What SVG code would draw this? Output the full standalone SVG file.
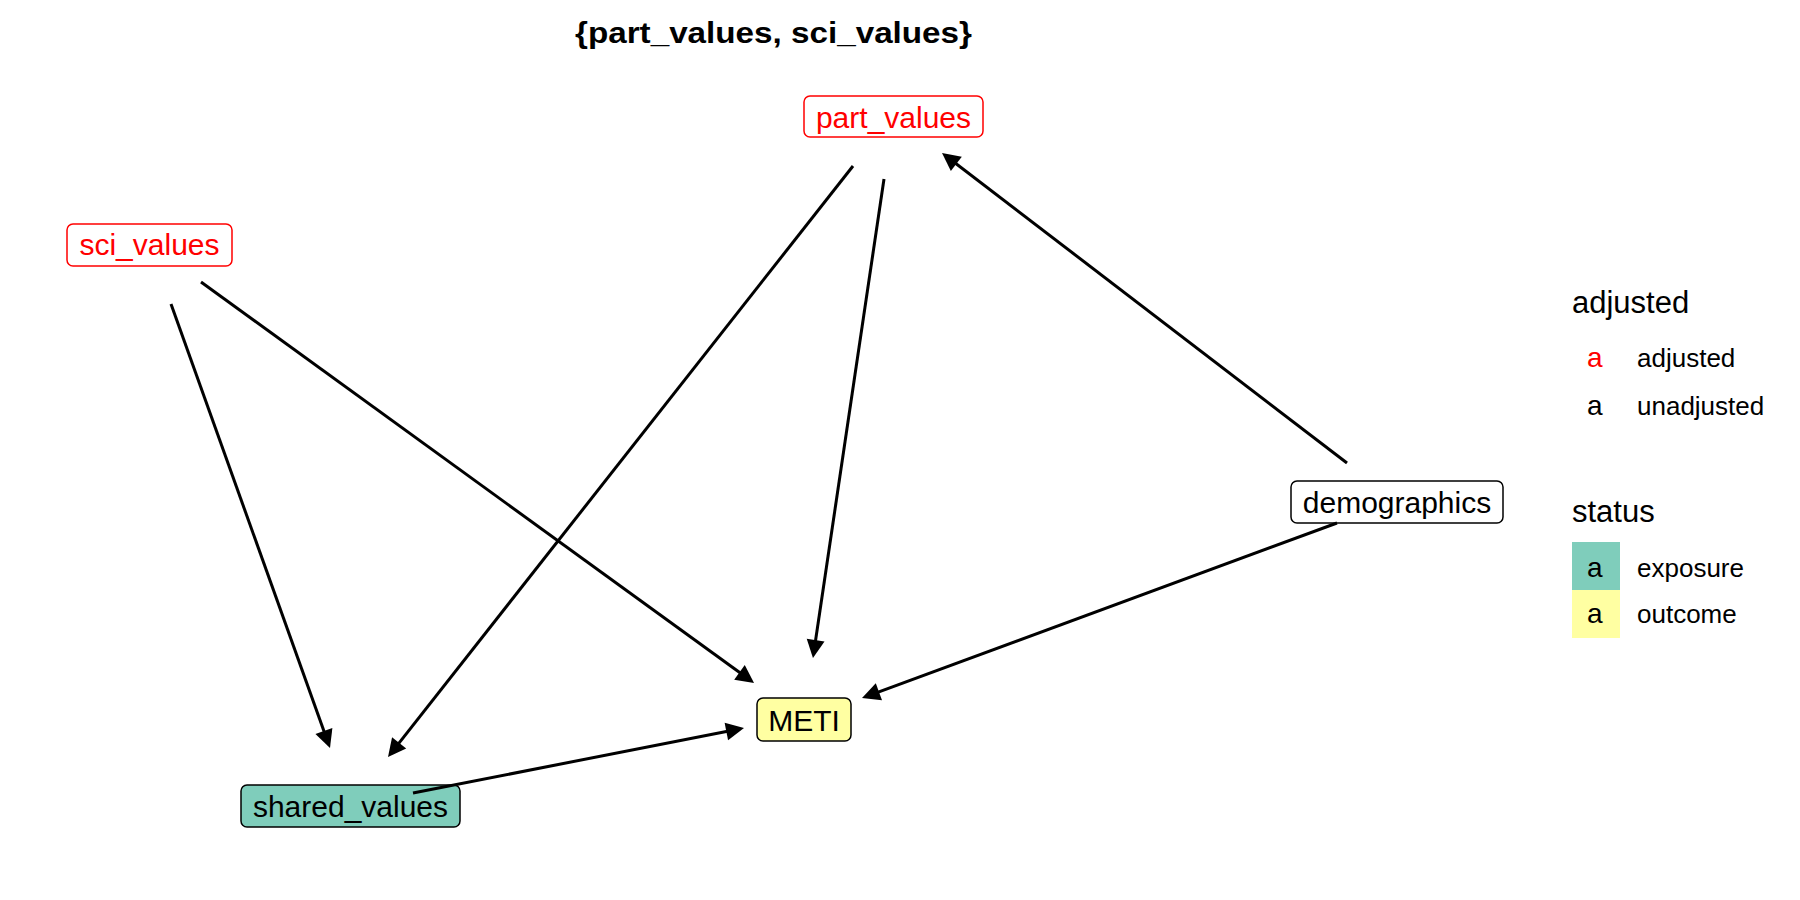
<svg xmlns="http://www.w3.org/2000/svg" width="1800" height="900" viewBox="0 0 1800 900">
<defs>
<style>
text{font-family:"Liberation Sans",Arial,sans-serif;}
.lbl{font-size:30px;text-anchor:middle;}
.box{stroke-width:1.5;}
.edge{stroke:#000;stroke-width:3;fill:none;marker-end:url(#arr);}
.ltitle{font-size:31px;}
.litem{font-size:26px;}
.la{font-size:28px;}
</style>
<marker id="arr" markerUnits="userSpaceOnUse" viewBox="-20 -10 30 20" refX="0" refY="0" markerWidth="30" markerHeight="20" orient="auto" overflow="visible">
<path d="M5,0 L-13,-9 L-13,9 Z" fill="#000"/>
</marker>
</defs>
<rect width="1800" height="900" fill="#fff"/>
<text x="575" y="43" font-size="29" font-weight="bold" textLength="397" lengthAdjust="spacingAndGlyphs">{part_values, sci_values}</text>

<g id="node-part_values">
<rect class="box" x="804" y="96" width="179" height="41" rx="6" fill="#fff" stroke="#f00"/>
<text class="lbl" x="893.5" y="128" fill="#f00">part_values</text>
</g>
<g id="node-sci_values">
<rect class="box" x="67" y="224" width="165" height="42" rx="6" fill="#fff" stroke="#f00"/>
<text class="lbl" x="149.5" y="255" fill="#f00">sci_values</text>
</g>
<g id="node-demographics">
<rect class="box" x="1291" y="481" width="212" height="42" rx="6" fill="#fff" stroke="#000"/>
<text class="lbl" x="1397" y="513" fill="#000">demographics</text>
</g>
<g id="node-METI">
<rect class="box" x="757" y="698" width="94" height="43" rx="6" fill="#FFFFA2" stroke="#000"/>
<text class="lbl" x="804" y="731" fill="#000">METI</text>
</g>
<g id="node-shared_values">
<rect class="box" x="241" y="785" width="219" height="42" rx="6" fill="#7FCDBB" stroke="#000"/>
<text class="lbl" x="350.5" y="817" fill="#000">shared_values</text>
</g>

<g id="connectors">
<line class="edge" x1="171" y1="304" x2="328.3" y2="743.3"/>
<line class="edge" x1="201" y1="282" x2="750" y2="680"/>
<line class="edge" x1="853" y1="166" x2="391.1" y2="753.1"/>
<line class="edge" x1="884" y1="179" x2="813.7" y2="653"/>
<line class="edge" x1="1347" y1="463" x2="946" y2="156"/>
<line class="edge" x1="1337" y1="523" x2="866.7" y2="696.3"/>
<line class="edge" x1="413" y1="793" x2="739.1" y2="729"/>
</g>

<g id="legend">
<text class="ltitle" x="1572" y="313">adjusted</text>
<text class="la" x="1587" y="367" fill="#f00">a</text>
<text class="litem" x="1637" y="367">adjusted</text>
<text class="la" x="1587" y="415">a</text>
<text class="litem" x="1637" y="415">unadjusted</text>
<text class="ltitle" x="1572" y="522">status</text>
<rect x="1572" y="542" width="48" height="48" fill="#7FCDBB"/>
<rect x="1572" y="590" width="48" height="48" fill="#FFFFA2"/>
<text class="la" x="1587" y="577">a</text>
<text class="litem" x="1637" y="577">exposure</text>
<text class="la" x="1587" y="623">a</text>
<text class="litem" x="1637" y="623">outcome</text>
</g>
</svg>
